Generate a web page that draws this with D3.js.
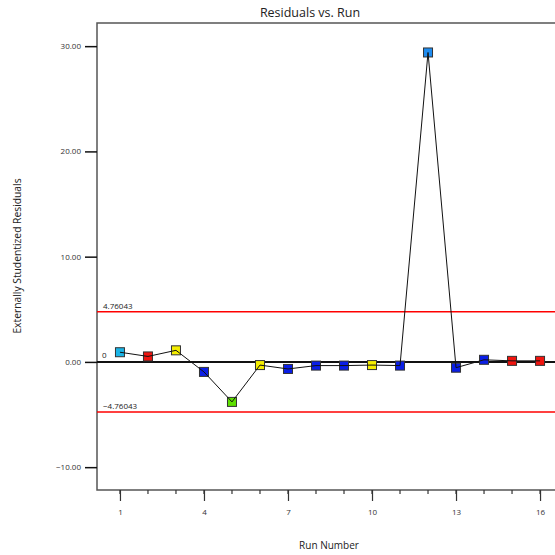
<!DOCTYPE html>
<html>
<head>
<meta charset="utf-8">
<script src="https://cdn.jsdelivr.net/npm/d3@7"></script>
<style>
  body { margin: 0; background: #fff; }
  text { font-family: "Open Sans", "Noto Sans", sans-serif; fill: #222; }
</style>
</head>
<body>
<div class="chart"></div>
<script>
// data
const runs = [1, 2, 3, 4, 5, 6, 7, 8, 9, 10, 11, 12, 13, 14, 15, 16];
const residuals = [0.92, 0.52, 1.1, -0.95, -3.8, -0.3, -0.67, -0.35, -0.35, -0.3, -0.35, 29.4, -0.55, 0.2, 0.1, 0.1];
const pointColors = ["#1ab4e6", "#f0140f", "#f5ee00", "#0a1ee6", "#5ee000", "#f5ee00", "#0a1ee6", "#0a1ee6",
                     "#0a1ee6", "#f5ee00", "#0a1ee6", "#1e8cf0", "#0a1ee6", "#0a1ee6", "#f0140f", "#f0140f"];
const limit = 4.76043;
const yTicks = [-10, 0, 10, 20, 30];
const xTicks = [1, 4, 7, 10, 13, 16];

function main(){
    const W = 555, H = 555;
    const margin = {top: 23, right: -8, bottom: 65, left: 97};
    const width = W - margin.left - margin.right;
    const height = H - margin.top - margin.bottom;

    const svg = d3.select(".chart").append("svg")
        .attr("width", W).attr("height", H)
        .style("display", "block");

    const g = svg.append("g")
        .attr("transform", `translate(${margin.left},${margin.top})`);

    const xScale = d3.scaleLinear().domain([0.18, 16.82]).range([0, width]);
    const yScale = d3.scaleLinear().domain([-12.17, 32.2]).range([height, 0]);

    // frame top + left + bottom
    g.append("path")
        .attr("d", `M${width},0H0V${height}H${width}`)
        .attr("fill", "none")
        .attr("stroke", "#555")
        .attr("stroke-width", 1.5);

    // y axis
    const yAxis = d3.axisLeft(yScale).tickValues(yTicks)
        .tickFormat(d3.format(".2f")).tickSize(12).tickPadding(4);
    const ya = g.append("g").call(yAxis);
    ya.select(".domain").remove();
    ya.selectAll("line").attr("stroke", "#111").attr("stroke-width", 1.5);
    ya.selectAll("text").style("font-size", "8px").attr("font-family", null).style("fill", "#333");

    // x axis: minor ticks every run, majors every 3
    const xa = g.append("g").attr("transform", `translate(0,${height})`);
    xa.selectAll(".minor").data(runs).enter().append("line")
        .attr("x1", d => xScale(d)).attr("x2", d => xScale(d))
        .attr("y1", 0).attr("y2", 4)
        .attr("stroke", "#333").attr("stroke-width", 1.2);
    const xAxis = d3.axisBottom(xScale).tickValues(xTicks)
        .tickFormat(d3.format("d")).tickSize(11).tickPadding(8);
    xa.call(xAxis);
    xa.select(".domain").remove();
    xa.selectAll(".tick line").attr("stroke", "#333").attr("stroke-width", 1.2);
    xa.selectAll(".tick text").style("font-size", "8px").attr("font-family", null).style("fill", "#333");

    // limit lines
    [limit, -limit].forEach(v => {
        g.append("line")
            .attr("x1", 0).attr("x2", width)
            .attr("y1", yScale(v)).attr("y2", yScale(v))
            .attr("stroke", "#f00").attr("stroke-width", 1.5);
        g.append("text")
            .attr("x", 6).attr("y", yScale(v) - 3)
            .style("font-size", "8px")
            .text(d3.format(".5f")(v));
    });

    // zero line
    g.append("line")
        .attr("x1", 0).attr("x2", width)
        .attr("y1", yScale(0)).attr("y2", yScale(0))
        .attr("stroke", "#111").attr("stroke-width", 2);
    g.append("text")
        .attr("x", 5).attr("y", yScale(0) - 4)
        .style("font-size", "8px")
        .text("0");

    const pts = runs.map((r, i) => ({run: r, val: residuals[i], color: pointColors[i]}));

    // markers
    const s = 9;
    g.selectAll(".pt").data(pts).enter().append("rect")
        .attr("class", "pt")
        .attr("x", d => xScale(d.run) - s / 2)
        .attr("y", d => yScale(d.val) - s / 2)
        .attr("width", s).attr("height", s)
        .attr("fill", d => d.color)
        .attr("stroke", "#333").attr("stroke-width", 1);

    // connecting line (drawn over markers like the original)
    const line = d3.line().x(d => xScale(d.run)).y(d => yScale(d.val));
    g.append("path")
        .datum(pts)
        .attr("fill", "none")
        .attr("stroke", "#111")
        .attr("stroke-width", 1)
        .attr("d", line);

    // titles
    svg.append("text")
        .attr("x", 310).attr("y", 17)
        .attr("text-anchor", "middle")
        .style("font-size", "12.5px")
        .text("Residuals vs. Run");

    svg.append("text")
        .attr("x", 329).attr("y", 549)
        .attr("text-anchor", "middle")
        .style("font-size", "10px")
        .text("Run Number");

    svg.append("text")
        .attr("transform", "translate(21,256) rotate(-90)")
        .attr("text-anchor", "middle")
        .style("font-size", "10.3px")
        .text("Externally Studentized Residuals");
}

main();
</script>
</body>
</html>
